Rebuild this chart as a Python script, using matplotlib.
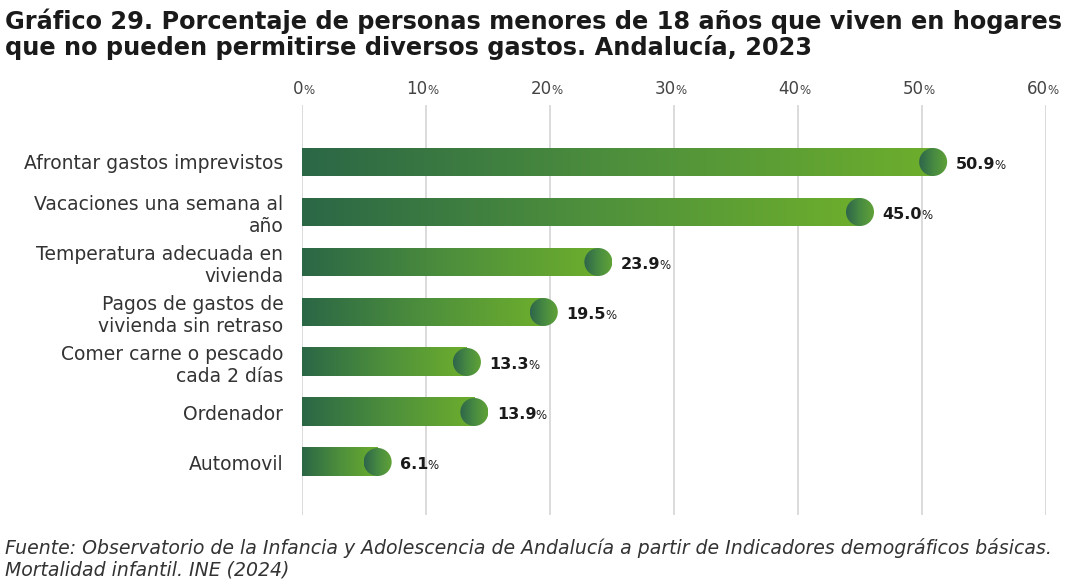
import numpy as np
import matplotlib

matplotlib.use("Agg")
import matplotlib.pyplot as plt
from matplotlib.colors import LinearSegmentedColormap
from matplotlib.patches import Ellipse

plt.rcParams["font.family"] = ["DejaVu Sans"]

# data
categories = [
    "Afrontar gastos imprevistos",
    "Vacaciones una semana al\naño",
    "Temperatura adecuada en\nvivienda",
    "Pagos de gastos de\nvivienda sin retraso",
    "Comer carne o pescado\ncada 2 días",
    "Ordenador",
    "Automovil",
]
values = [50.9, 45.0, 23.9, 19.5, 13.3, 13.9, 6.1]
ticks = [0, 10, 20, 30, 40, 50, 60]

title = ("Gráfico 29. Porcentaje de personas menores de 18 años que viven en hogares\n"
         "que no pueden permitirse diversos gastos. Andalucía, 2023")
source = ("Fuente: Observatorio de la Infancia y Adolescencia de Andalucía a partir de Indicadores demográficos básicas.\n"
          "Mortalidad infantil. INE (2024)")

bar_cmap = LinearSegmentedColormap.from_list("bar", ["#2b6746", "#4d8f3c", "#6dae2d"])
dot_cmap = LinearSegmentedColormap.from_list("dot", ["#2d654b", "#478a42", "#60a236"])

fig = plt.figure(figsize=(10.8, 5.82), dpi=100)
ax = fig.add_axes([302 / 1080, 1 - 515 / 582, (1046 - 302) / 1080, (515 - 105) / 582])

xmin, xmax = 0, 60
ylo, yhi = 7.06, -1.14
bar_h = 0.56
px_per_x = (1046 - 302) / 60
rad_x = 14 / px_per_x
grad = np.linspace(0, 1, 256).reshape(1, -1)

for i, v in enumerate(values):
    ax.imshow(grad, extent=(0, v, i + bar_h / 2, i - bar_h / 2), aspect="auto",
              cmap=bar_cmap, zorder=2, interpolation="bilinear")
    circ = Ellipse((v, i), 2 * rad_x, bar_h, transform=ax.transData,
                   facecolor="none", edgecolor="none")
    ax.add_patch(circ)
    im = ax.imshow(grad, extent=(v - rad_x, v + rad_x, i + bar_h / 2, i - bar_h / 2),
                   aspect="auto", cmap=dot_cmap, zorder=3, interpolation="bilinear")
    im.set_clip_path(circ)
    t = ax.annotate(f"{v:.1f}", xy=(v + rad_x, i), xytext=(6, -5), textcoords="offset points",
                    ha="left", va="baseline", fontsize=11.5, fontweight="bold",
                    color="#1a1a1a", zorder=4)
    ax.annotate("%", xy=(1, i), xycoords=(t, "data"), xytext=(-0.5, -5),
                textcoords="offset points", ha="left", va="baseline",
                fontsize=8.5, color="#1a1a1a", zorder=4)

for x in ticks:
    ax.axvline(x, color="#d4d4d4", lw=1.2, zorder=1)
    t = ax.annotate(f"{x}", xy=(x, 1), xycoords=("data", "axes fraction"),
                    xytext=(1, 8), textcoords="offset points", ha="right",
                    va="baseline", fontsize=12, color="#444444", annotation_clip=False)
    ax.annotate("%", xy=(1, 1), xycoords=(t, "axes fraction"), xytext=(0, 8),
                textcoords="offset points", ha="left", va="baseline",
                fontsize=8.5, color="#444444", annotation_clip=False)

ax.set_xlim(xmin, xmax)
ax.set_ylim(ylo, yhi)
ax.set_yticks(range(len(categories)))
ax.set_yticklabels(categories, fontsize=13.5, color="#333333", linespacing=1.2)
ax.set_xticks([])
ax.tick_params(axis="y", length=0, pad=13.5)
for s in ax.spines.values():
    s.set_visible(False)

fig.text(5 / 1080, 1 - 8 / 582, title, ha="left", va="top", fontsize=17.3,
         fontweight="bold", color="#1a1a1a", linespacing=1.1)
fig.text(5 / 1080, 1 - 538 / 582, source, ha="left", va="top", fontsize=13.6,
         style="italic", color="#333333", linespacing=1.15)

fig.savefig("out.png", dpi=100)
